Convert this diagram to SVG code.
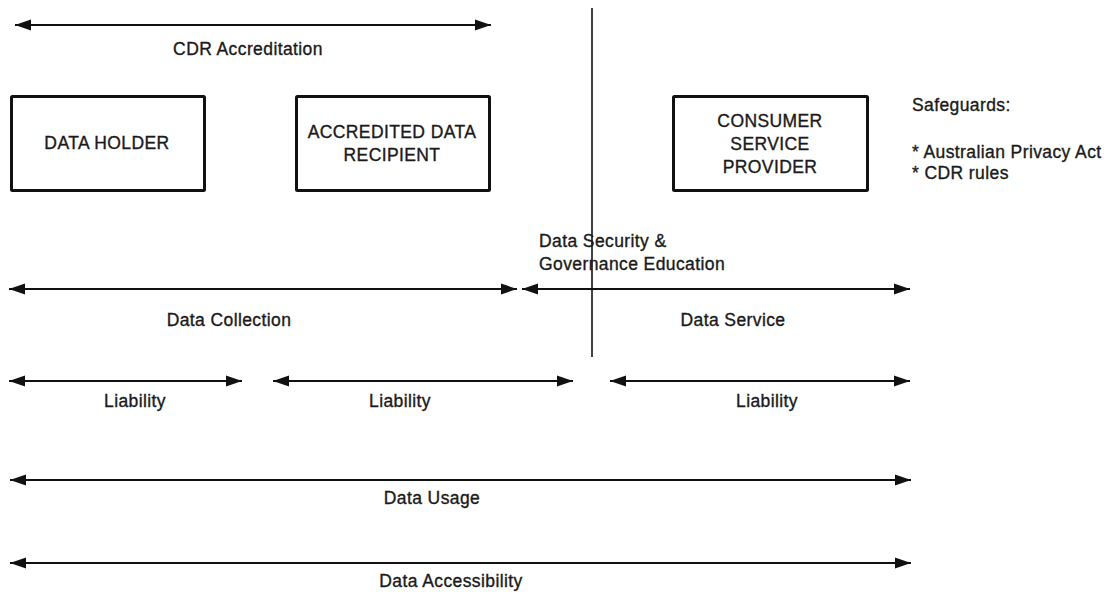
<svg xmlns="http://www.w3.org/2000/svg" width="1111" height="592" viewBox="0 0 1111 592">
  <style>
    text { font-family: "Liberation Sans", Arial, Helvetica, sans-serif; font-size: 17.5px; fill: #1a1a1a; stroke: #1a1a1a; stroke-width: 0.35; letter-spacing: 0.4px; }
    .c { text-anchor: middle; }
    .box { fill: #ffffff; stroke: #111111; stroke-width: 3; }
    .arr { stroke: #111111; stroke-width: 2; fill: none; marker-start: url(#ah); marker-end: url(#ah); }
    .div { stroke: #111111; stroke-width: 1.6; }
  </style>
  <defs>
    <marker id="ah" markerUnits="userSpaceOnUse" markerWidth="17" markerHeight="12" refX="16" refY="5.5" orient="auto-start-reverse" viewBox="0 0 17 11">
      <path d="M0,0 L16,5.5 L0,11 z" fill="#111111"/>
    </marker>
  </defs>
  <rect width="1111" height="592" fill="#ffffff"/>

  <g id="connectors">
    <line class="arr" x1="15" y1="25" x2="491" y2="25"/>
    <line class="div" x1="592" y1="8" x2="592" y2="357"/>
    <line class="arr" x1="9" y1="289" x2="517" y2="289"/>
    <line class="arr" x1="522" y1="289" x2="910" y2="289"/>
    <line class="arr" x1="9" y1="381" x2="242" y2="381"/>
    <line class="arr" x1="273" y1="381" x2="573" y2="381"/>
    <line class="arr" x1="610" y1="381" x2="910" y2="381"/>
    <line class="arr" x1="10" y1="480" x2="911" y2="480"/>
    <line class="arr" x1="10" y1="563" x2="911" y2="563"/>
  </g>

  <g id="labels">
    <text class="c" x="248" y="55">CDR Accreditation</text>
    <text x="539" y="247">Data Security &amp;</text>
    <text x="539" y="270">Governance Education</text>
    <text class="c" x="229" y="326">Data Collection</text>
    <text class="c" x="733" y="326">Data Service</text>
    <text class="c" x="135" y="407">Liability</text>
    <text class="c" x="400" y="407">Liability</text>
    <text class="c" x="767" y="407">Liability</text>
    <text class="c" x="432" y="504">Data Usage</text>
    <text class="c" x="451" y="587">Data Accessibility</text>
  </g>

  <g id="data-holder">
    <rect class="box" x="11.5" y="96.5" width="193" height="94" rx="1"/>
    <text class="c" x="107" y="149">DATA HOLDER</text>
  </g>

  <g id="accredited-data-recipient">
    <rect class="box" x="296.5" y="96.5" width="193" height="94" rx="1"/>
    <text class="c" x="392" y="138">ACCREDITED DATA</text>
    <text class="c" x="392" y="161">RECIPIENT</text>
  </g>

  <g id="consumer-service-provider">
    <rect class="box" x="673.5" y="96.5" width="194" height="94" rx="1"/>
    <text class="c" x="770" y="127">CONSUMER</text>
    <text class="c" x="770" y="150">SERVICE</text>
    <text class="c" x="770" y="173">PROVIDER</text>
  </g>

  <g id="safeguards">
    <text x="912" y="111">Safeguards:</text>
    <text x="912" y="158">* Australian Privacy Act</text>
    <text x="912" y="179">* CDR rules</text>
  </g>
</svg>
